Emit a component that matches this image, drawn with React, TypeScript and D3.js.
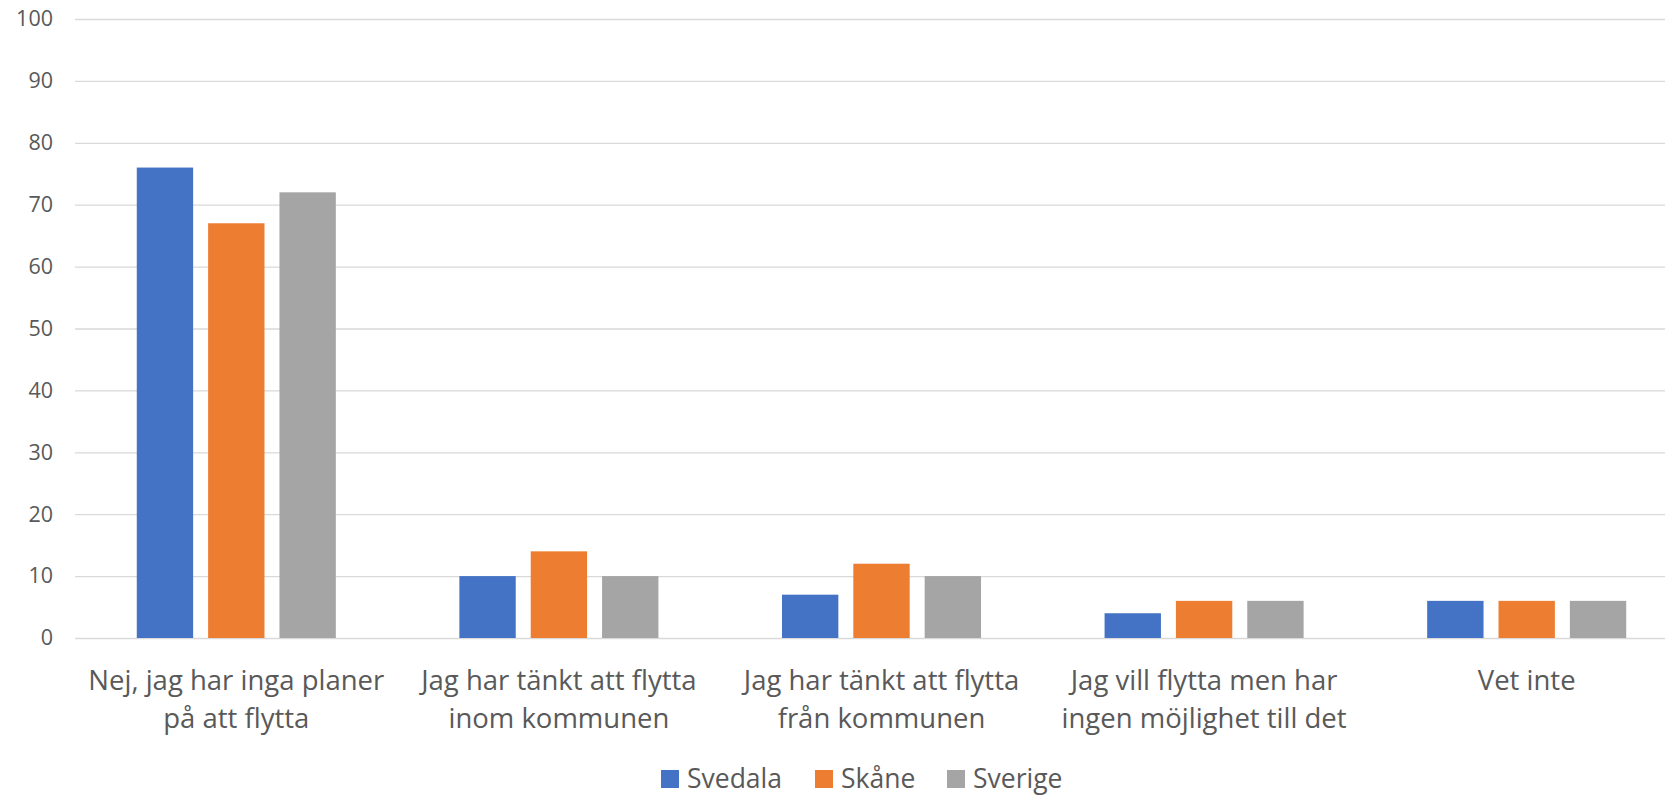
import React, { useRef, useEffect } from "react";
import { select, scaleBand, scaleLinear, axisLeft, range } from "d3";

const categories = [
  ["Nej, jag har inga planer", "på att flytta"],
  ["Jag har tänkt att flytta", "inom kommunen"],
  ["Jag har tänkt att flytta", "från kommunen"],
  ["Jag vill flytta men har", "ingen möjlighet till det"],
  ["Vet inte"],
];
const seriesNames = ["Svedala", "Skåne", "Sverige"];
const svedala = [76, 10, 7, 4, 6];
const skane = [67, 14, 12, 6, 6];
const sverige = [72, 10, 10, 6, 6];
const tickValues = [0, 10, 20, 30, 40, 50, 60, 70, 80, 90, 100];
const colors = ["#4472C4", "#ED7D31", "#A5A5A5"];

const W = 1665;
const H = 796;
const FONT = "'Open Sans', 'Noto Sans', sans-serif";

function App() {
  const svgRef = useRef<SVGSVGElement>(null);

  useEffect(() => {
    document.body.style.margin = "0";
    const svg = select(svgRef.current);
    svg.selectAll("*").remove();

    const values = [svedala, skane, sverige];
    const left = 75;
    const right = 1688; // plot runs past the right edge, like the original

    const x0 = scaleBand<number>()
      .domain(range(categories.length))
      .range([left, right])
      .paddingInner(0.383)
      .paddingOuter(0.1915);
    const x1 = scaleBand<number>()
      .domain(range(seriesNames.length))
      .range([0, x0.bandwidth()])
      .paddingInner(0.21);
    const y = scaleLinear().domain([0, 100]).range([638, 19]);

    // gridlines + y labels
    const yAxis = axisLeft(y)
      .tickValues(tickValues)
      .tickSize(-(right - left))
      .tickPadding(22);
    const ga = svg.append("g").attr("transform", `translate(${left},0)`).call(yAxis);
    ga.select(".domain").remove();
    ga.selectAll(".tick line").attr("stroke", "#d9d9d9").attr("stroke-width", 1.3);
    ga.selectAll(".tick text")
      .attr("fill", "#595959")
      .style("font-family", FONT)
      .style("font-size", "21.5px");

    // bars
    const groups = svg
      .selectAll(".grp")
      .data(categories.map((_, i) => i))
      .join("g")
      .attr("class", "grp")
      .attr("transform", (i) => `translate(${x0(i)},0)`);
    groups
      .selectAll("rect")
      .data((i) => values.map((s, k) => ({ k, v: s[i] })))
      .join("rect")
      .attr("x", (d) => x1(d.k)!)
      .attr("width", x1.bandwidth())
      .attr("y", (d) => y(d.v))
      .attr("height", (d) => y(0) - y(d.v))
      .attr("fill", (d) => colors[d.k]);

    // category labels
    svg
      .selectAll(".cat")
      .data(categories)
      .join("text")
      .attr("class", "cat")
      .attr("text-anchor", "middle")
      .attr("fill", "#595959")
      .style("font-family", FONT)
      .style("font-size", "27.5px")
      .each(function (lines, i) {
        const cx = x0(i)! + x0.bandwidth() / 2;
        select(this)
          .selectAll("tspan")
          .data(lines)
          .join("tspan")
          .attr("x", cx)
          .attr("y", (_, j) => 690 + j * 38)
          .text((t) => t);
      });

    // legend
    const legendX = [661, 815, 947];
    const lg = svg
      .selectAll(".lg")
      .data(seriesNames)
      .join("g")
      .attr("class", "lg")
      .attr("transform", (_, i) => `translate(${legendX[i]},770)`);
    lg.append("rect").attr("width", 18).attr("height", 18).attr("fill", (_, i) => colors[i]);
    lg.append("text")
      .attr("x", 26)
      .attr("y", 18)
      .attr("fill", "#595959")
      .style("font-family", FONT)
      .style("font-size", "26.5px")
      .text((d) => d);
  }, []);

  return (
    <svg ref={svgRef} width={W} height={H} style={{ display: "block", background: "#fff" }}></svg>
  );
}

export default App;
